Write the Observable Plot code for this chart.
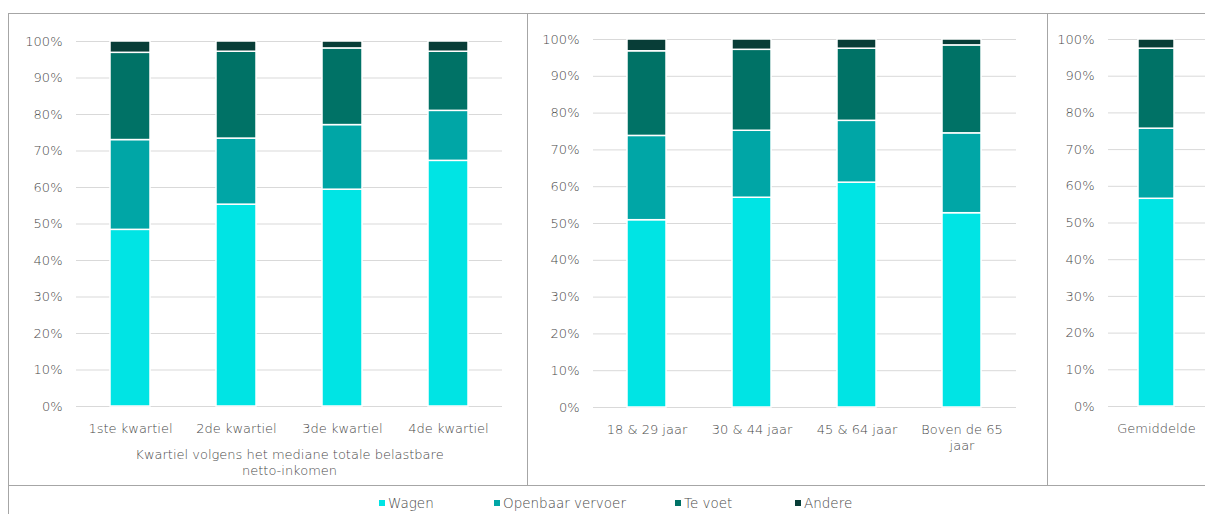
<!DOCTYPE html>
<html>
<head>
<meta charset="utf-8">
<script src="https://cdn.jsdelivr.net/npm/d3@7"></script>
<script src="https://cdn.jsdelivr.net/npm/@observablehq/plot@0.6"></script>
<style>
  html, body { margin: 0; padding: 0; background: #fff; }
  body { width: 1205px; height: 514px; overflow: hidden; position: relative;
         font-family: "DejaVu Sans", sans-serif; font-weight: 200; color: #4a4a4a; }
  .frame { position: absolute; left: 8px; top: 13px; width: 1215px; height: 520px;
           border: 1px solid #a6a6a6; box-sizing: border-box; }
  .hline { position: absolute; left: 8px; top: 485px; width: 1205px; height: 0; border-top: 1px solid #a6a6a6; }
  .vline { position: absolute; top: 13px; height: 472px; width: 0; border-left: 1px solid #a6a6a6; }
  .panel { position: absolute; top: 13px; }
  .panel svg { display: block; max-width: none; background: transparent; }
  .legend { position: absolute; left: 0; top: 494px; width: 1205px; height: 18px;
            font-size: 13.5px; line-height: 18px; }
  .legend .item { position: absolute; top: 0; display: flex; align-items: center; white-space: nowrap; }
  .legend .sw { width: 6px; height: 6px; margin-right: 3px; }
</style>
</head>
<body>
<div class="frame"></div>
<div class="hline"></div>
<div class="vline" style="left:527px"></div>
<div class="vline" style="left:1047px"></div>
<div id="p1" class="panel" style="left:8px"></div>
<div id="p2" class="panel" style="left:527px"></div>
<div id="p3" class="panel" style="left:1047px"></div>
<div id="legend" class="legend"></div>
<script>
// ---- data ----
const series = ["Wagen", "Openbaar vervoer", "Te voet", "Andere"];
const colors = ["#00E4E4", "#00A6A6", "#007266", "#083D37"];

const groups1 = ["1ste kwartiel", "2de kwartiel", "3de kwartiel", "4de kwartiel"];
const wagen1  = [48.4, 55.3, 59.4, 67.3];
const ov1     = [24.6, 18.1, 17.7, 13.7];
const tevoet1 = [23.9, 23.8, 21.0, 16.2];
const andere1 = [3.1, 2.8, 1.9, 2.8];
const axisTitle1 = "Kwartiel volgens het mediane totale belastbare\nnetto-inkomen";

const groups2 = ["18 & 29 jaar", "30 & 44 jaar", "45 & 64 jaar", "Boven de 65\njaar"];
const wagen2  = [50.9, 57.0, 61.1, 52.8];
const ov2     = [22.9, 18.2, 16.8, 21.7];
const tevoet2 = [23.0, 22.0, 19.6, 23.9];
const andere2 = [3.2, 2.8, 2.5, 1.6];

const groups3 = ["Gemiddelde"];
const wagen3  = [56.6];
const ov3     = [19.1];
const tevoet3 = [21.8];
const andere3 = [2.5];

const yTicks = d3.range(0, 101, 10);
const FONT = "'DejaVu Sans', sans-serif";

function tidy(groups, cols) {
  const rows = [];
  groups.forEach((g, i) => {
    series.forEach((s, j) => rows.push({group: g, series: s, value: cols[j][i]}));
  });
  return rows;
}

function panel(el, groups, cols, opts) {
  const data = tidy(groups, cols);
  const marks = [
    Plot.gridY(yTicks, {stroke: "#d9d9d9", strokeOpacity: 1, strokeWidth: 1}),
    Plot.barY(data, {x: "group", y: "value", fill: "series", stroke: "white", strokeWidth: 1.5}),
    Plot.axisY({ticks: yTicks, tickFormat: d => d + "%", tickSize: 0, tickPadding: 14, fontSize: 13}),
    Plot.axisX({tickSize: 0, tickPadding: 14, fontSize: 13, lineHeight: 1.3, label: null})
  ];
  if (opts.title) {
    marks.push(Plot.text([opts.title], {frameAnchor: "bottom", dy: 40, lineAnchor: "top",
      lineHeight: 1.3, fontSize: 13, text: d => d}));
  }
  const chart = Plot.plot({
    width: opts.width, height: 472,
    marginLeft: opts.ml, marginRight: opts.mr, marginTop: opts.mt, marginBottom: opts.mb,
    style: {fontFamily: FONT, fontWeight: 200, fontSize: "13px", color: "#4a4a4a", background: "transparent", overflow: "visible"},
    x: {domain: groups, paddingInner: 0.625, paddingOuter: 0.3125, label: null},
    y: {domain: [0, 100], label: null},
    color: {domain: series, range: colors},
    marks
  });
  document.getElementById(el).append(chart);
}

panel("p1", groups1, [wagen1, ov1, tevoet1, andere1], {width: 519, ml: 68, mr: 25, mt: 28, mb: 79, title: axisTitle1});
panel("p2", groups2, [wagen2, ov2, tevoet2, andere2], {width: 520, ml: 66, mr: 31, mt: 26, mb: 78});
panel("p3", groups3, [wagen3, ov3, tevoet3, andere3], {width: 158, ml: 61, mr: 0, mt: 26, mb: 79});

// ---- legend ----
const legendLeft = [379, 494, 675, 795];
const leg = document.getElementById("legend");
series.forEach((s, i) => {
  const item = document.createElement("div");
  item.className = "item";
  item.style.left = legendLeft[i] + "px";
  const sw = document.createElement("span");
  sw.className = "sw";
  sw.style.background = colors[i];
  const t = document.createElement("span");
  t.textContent = s;
  item.append(sw, t);
  leg.append(item);
});
</script>
</body>
</html>
